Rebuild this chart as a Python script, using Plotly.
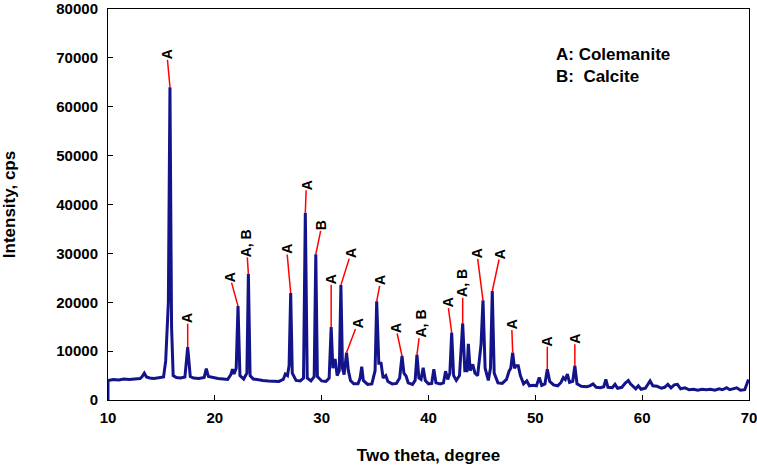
import plotly.graph_objects as go

# XRD pattern (2theta in degree, intensity in cps)
two_theta = [
    10.0, 10.0, 10.5, 11.0, 11.5, 12.0, 12.5, 13.0, 13.2, 13.4, 13.6, 13.9, 14.3, 14.8,
    15.2, 15.4, 15.5, 15.65, 15.8, 15.95, 16.1, 16.4, 16.8, 17.2, 17.46, 17.7, 18.0, 18.5,
    19.0, 19.2, 19.4, 19.8, 20.3, 20.8, 21.2, 21.5, 21.65, 21.8, 22.0, 22.17, 22.35, 22.7,
    23.0, 23.14, 23.3, 23.6, 24.0, 24.5, 25.0, 25.5, 26.0, 26.4, 26.6, 26.8, 26.95, 27.1,
    27.25, 27.6, 28.0, 28.3, 28.47, 28.65, 29.0, 29.3, 29.45, 29.6, 30.0, 30.4, 30.7, 30.89,
    31.05, 31.26, 31.45, 31.65, 31.8, 31.95, 32.1, 32.33, 32.5, 32.7, 33.0, 33.4, 33.6, 33.75,
    33.9, 34.3, 34.7, 35.0, 35.15, 35.35, 35.56, 35.75, 36.0, 36.2, 36.6, 37.0, 37.3, 37.52,
    37.7, 37.9, 38.1, 38.5, 38.75, 38.92, 39.1, 39.3, 39.5, 39.7, 40.0, 40.3, 40.5, 40.7,
    41.1, 41.4, 41.6, 41.8, 42.0, 42.17, 42.35, 42.6, 42.9, 43.2, 43.4, 43.6, 43.73, 43.9,
    44.14, 44.35, 44.6, 44.92, 45.1, 45.3, 45.6, 45.8, 45.97, 46.15, 46.5, 46.9, 47.3, 47.54,
    47.7, 47.88, 48.05, 48.2, 48.4, 48.6, 48.9, 49.2, 49.45, 49.8, 50.1, 50.37, 50.6, 50.9,
    51.12, 51.35, 51.7, 52.1, 52.4, 52.62, 52.8, 53.0, 53.2, 53.5, 53.7, 53.9, 54.3, 54.8,
    55.1, 55.4, 55.7, 56.1, 56.4, 56.6, 56.8, 57.2, 57.46, 57.7, 58.1, 58.4, 58.7, 58.9,
    59.2, 59.4, 59.64, 59.9, 60.3, 60.74, 61.0, 61.4, 61.8, 62.1, 62.4, 62.7, 63.0, 63.3,
    63.6, 64.0, 64.4, 64.8, 65.2, 65.6, 66.0, 66.4, 66.8, 67.2, 67.5, 67.9, 68.2, 68.5,
    68.85, 69.2, 69.6, 69.9, 70.0,
]
intensity = [
    0, 4000, 4200, 4100, 4300, 4200, 4300, 4400, 4800, 5500, 4700, 4500, 4400, 4500,
    4700, 8000, 12000, 20000, 64000, 15000, 5000, 4600, 4500, 4700, 10800, 4800, 4500, 4400,
    4600, 6400, 4800, 4600, 4400, 4300, 4200, 5200, 6300, 5300, 6500, 19200, 5000, 4300,
    5500, 25800, 5000, 4300, 4100, 4000, 3900, 3900, 3800, 4200, 5300, 5000, 7000, 21900,
    5500, 4000, 3900, 4500, 38300, 4500, 3900, 4800, 29800, 4800, 3900, 3800, 4500, 14900,
    6500, 8400, 5000, 6000, 23500, 6500, 5200, 9700, 6000, 4000, 3300, 3300, 4500, 6800,
    4000, 3200, 3300, 6000, 20200, 7500, 7500, 4500, 5000, 3800, 3300, 3400, 4500, 9000,
    5500, 4900, 3500, 3200, 4000, 9300, 4500, 4200, 6600, 4000, 3300, 3400, 6300, 3500,
    3300, 3500, 5900, 4200, 5500, 13800, 5000, 4000, 5000, 15700, 6000, 6000, 11500, 6000,
    7300, 5500, 5000, 11400, 20400, 6500, 4000, 6500, 22300, 5500, 3500, 3400, 4200, 5900,
    6500, 9700, 6500, 7000, 7000, 5000, 3300, 3900, 2900, 3000, 2900, 4600, 3000, 3300,
    6300, 3800, 3100, 2900, 3600, 4600, 4200, 5300, 3600, 3800, 7000, 3300, 2800, 2700,
    2900, 3300, 2600, 2500, 2700, 4200, 2600, 2500, 3200, 2400, 2600, 3400, 4000, 3300,
    2600, 2300, 2900, 2200, 2400, 3900, 2900, 2800, 2400, 2600, 3200, 2500, 3100, 3200,
    2300, 2500, 2100, 2200, 2000, 2200, 2100, 2200, 2000, 2300, 2100, 2500, 2100, 2300,
    2500, 2000, 2100, 3900, 3800,
]

x_ticks = [10, 20, 30, 40, 50, 60, 70]
y_ticks = [0, 10000, 20000, 30000, 40000, 50000, 60000, 70000, 80000]

# labelled peaks: position, phase label
peak_pos = [15.8, 17.46, 22.17, 23.14, 27.1, 28.47, 29.45, 30.89, 31.8, 32.33,
            35.15, 37.52, 38.92, 42.17, 43.2, 45.1, 45.97, 47.88, 51.12, 53.7]
peak_lab = ["A", "A", "A", "A, B", "A", "A", "B", "A", "A", "A",
            "A", "A", "A, B", "A", "A, B", "A", "A", "A", "A", "A"]
# leader line offsets (pixels) from peak top to label centre
lab_dx = [-3, 0, -8, -2, -4, 1, 6, 0, 10, 11, 4, -6, 4, -4, 0, -6, 8, -1, 0, 0]
lab_dy = [-33, -29, -29, -31, -44, -28, -29, -48, -32, -29, -21, -28, -31, -30, -40, -47, -37, -28, -28, -27]

fig = go.Figure()
fig.add_trace(go.Scatter(x=two_theta, y=intensity, mode="lines",
                         line=dict(color="#14148a", width=3), showlegend=False))

for p, lab, dx, dy in zip(peak_pos, peak_lab, lab_dx, lab_dy):
    fig.add_annotation(x=p, y=intensity[two_theta.index(p)], text="<b>%s</b>" % lab,
                       textangle=-90, showarrow=True, arrowhead=0, arrowwidth=1.5,
                       arrowcolor="red", ax=dx, ay=dy, standoff=0, borderpad=0,
                       font=dict(size=14, color="black", family="Liberation Sans, Arial"))

fig.add_annotation(x=0.698, y=0.91, xref="paper", yref="paper", xanchor="left", yanchor="top",
                   align="left", showarrow=False, borderpad=0,
                   text="<b>A: Colemanite</b><br><b>B:  Calcite</b>",
                   font=dict(size=17, color="black", family="Liberation Sans, Arial"))

axis_font = dict(size=15, color="black", family="Liberation Sans, Arial", weight="bold")
title_font = dict(size=17, color="black", family="Liberation Sans, Arial", weight="bold")

fig.update_xaxes(range=[10, 70], tickmode="array", tickvals=x_ticks,
                 ticktext=[str(v) for v in x_ticks], ticks="inside", ticklen=5,
                 tickcolor="black", showline=True, linecolor="black", linewidth=1,
                 mirror=True, showgrid=False, zeroline=False, tickfont=axis_font,
                 automargin=False, ticklabeloverflow="allow", ticklabelstandoff=4,
                 title=dict(text="Two theta, degree", font=title_font, standoff=24))
fig.update_yaxes(range=[0, 80000], tickmode="array", tickvals=y_ticks,
                 ticktext=[str(v) for v in y_ticks], ticks="inside", ticklen=5,
                 tickcolor="black", showline=True, linecolor="black", linewidth=1,
                 mirror=True, showgrid=False, zeroline=False, tickfont=axis_font,
                 automargin=False, ticklabeloverflow="allow", ticklabelstandoff=6,
                 title=dict(text="Intensity, cps", font=title_font, standoff=36))

fig.update_layout(width=757, height=469, margin=dict(l=108, r=8, t=9, b=69),
                  paper_bgcolor="white", plot_bgcolor="white")

# page body has an 8px default margin; drop it so the figure fills the window
fig.write_html("out.html", config={"displayModeBar": False},
               post_script="document.body.style.margin='0';")
